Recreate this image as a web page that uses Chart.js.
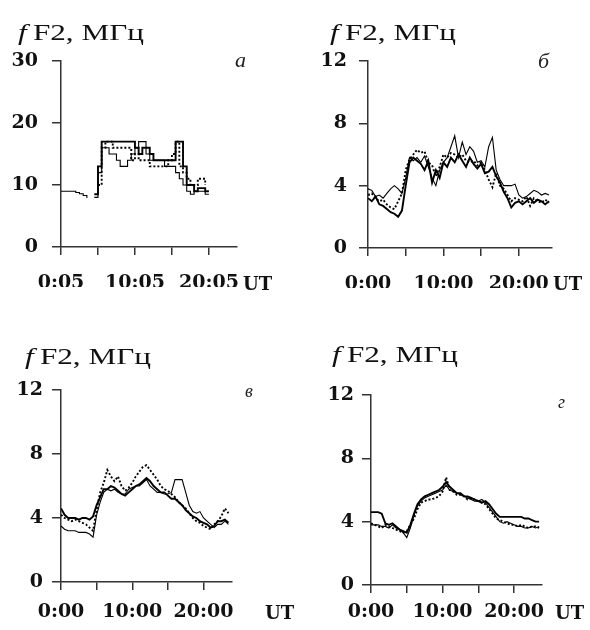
<!DOCTYPE html>
<html>
<head>
<meta charset="utf-8">
<script src="https://cdn.jsdelivr.net/npm/chart.js@4.4.1/dist/chart.umd.min.js"></script>
<style>
  body { margin: 0; background: #fff; }
  #page { position: relative; width: 590px; height: 630px; overflow: hidden; }
  canvas { position: absolute; }
  .ttl { position: absolute; font-family: "Liberation Serif", serif; font-size: 24px; line-height: 1; white-space: nowrap;
         transform: scaleX(1.3); transform-origin: left top; color: #111; }
  .ltr { position: absolute; font-family: "Liberation Serif", serif; font-style: italic; line-height: 1; color: #222; }
  .ut { position: absolute; font-family: "DejaVu Serif", serif; font-weight: bold; font-size: 18px; line-height: 1; color: #111; }
</style>
</head>
<body>
<div id="page">
  <canvas id="ca" width="295" height="315" style="left:0;top:0"></canvas>
  <canvas id="cb" width="295" height="315" style="left:295px;top:0"></canvas>
  <canvas id="cc" width="295" height="315" style="left:0;top:315px"></canvas>
  <canvas id="cd" width="295" height="315" style="left:295px;top:315px"></canvas>

  <div class="ttl" style="left:18px;top:20px"><i>f</i>&#8201;F2, МГц</div>
  <div class="ttl" style="left:330px;top:20px"><i>f</i>&#8201;F2, МГц</div>
  <div class="ttl" style="left:25px;top:344px"><i>f</i>&#8201;F2, МГц</div>
  <div class="ttl" style="left:332px;top:342px"><i>f</i>&#8201;F2, МГц</div>

  <div class="ltr" style="left:235px;top:49px;font-size:22px">а</div>
  <div class="ltr" style="left:538px;top:50px;font-size:22px">б</div>
  <div class="ltr" style="left:245px;top:382px;font-size:18px">в</div>
  <div class="ltr" style="left:558px;top:393px;font-size:18px">г</div>

  <div class="ut" style="left:243px;top:275px">UT</div>
  <div class="ut" style="left:553px;top:275px">UT</div>
  <div class="ut" style="left:265px;top:604px">UT</div>
  <div class="ut" style="left:555px;top:604px">UT</div>
</div>
<script>
// time of day, hours (half-hour steps)
const hours = [0, 0.5, 1, 1.5, 2, 2.5, 3, 3.5, 4, 4.5, 5, 5.5, 6, 6.5, 7, 7.5, 8, 8.5, 9, 9.5,
  10, 10.5, 11, 11.5, 12, 12.5, 13, 13.5, 14, 14.5, 15, 15.5, 16, 16.5, 17, 17.5, 18, 18.5, 19, 19.5,
  20, 20.5, 21, 21.5, 22, 22.5, 23, 23.5, 24];

const xLabelsA = ["0:05", "", "10:05", "", "20:05"];
const xLabels = ["0:00", "", "10:00", "", "20:00"];

// panel a (fF2, MHz)
const a1 = [9, 9, 9, 9, 8.8, 8.6, 8.3, 7.9, null, 8, 12, 16, 16, 15, 15, 14, 13, 13, 14, 15,
  16, 17, 17, 15, 14, 14, 14, 14, 13, 13, 13, 12, 11, 10, 9, 8.5, 9, 9, 9, 8.5, 8.5];
const a2 = [null, null, null, null, null, null, null, null, null, 8.5, 13, 17, 17, 17, 17, 17, 17, 17, 17, 17,
  16, 15, 16, 16, 15, 14, 14, 14, 14, 14, 14, 17, 17, 13, 10, 10, 9, 9.5, 9.5, 9, 9];
const a3 = [null, null, null, null, null, null, null, null, null, null, 10, 16, 17, 17, 16, 16, 16, 16, 16, 14,
  15, 14, 14, 14, 13, 13, 13, 13, 13, 14, 15, 17, 13, 12, 11, 10, 10, 11, 11, 10];

// panel b
const b1 = [3.8, 3.7, 3.3, 3.4, 3.2, 3.5, 3.8, 4.0, 3.8, 3.5, 4.5, 5.8, 5.6, 5.8, 5.5, 5.9, 5.2, 4.5, 4.0, 5.0,
  5.5, 5.8, 6.5, 7.2, 5.8, 6.8, 6.0, 6.5, 6.2, 5.5, 5.6, 5.2, 6.5, 7.1, 5.0, 4.4, 4.0, 4.0, 4.0, 4.1,
  3.4, 3.2, 3.3, 3.5, 3.7, 3.6, 3.4, 3.5, 3.4];
const b2 = [3.2, 3.0, 3.3, 2.8, 2.7, 2.5, 2.3, 2.2, 2.0, 2.4, 4.0, 5.5, 5.8, 5.6, 5.4, 5.0, 5.6, 4.2, 5.0, 4.5,
  5.5, 5.2, 5.8, 5.5, 6.0, 5.6, 5.2, 5.8, 5.4, 5.1, 5.4, 4.8, 4.9, 5.2, 4.6, 4.2, 3.6, 3.2, 2.6, 2.9,
  3.0, 2.8, 3.0, 3.2, 2.9, 3.1, 3.0, 2.8, 3.0];
const b3 = [3.4, 3.5, 3.2, 3.0, 3.1, 2.8, 2.6, 2.5, 3.0, 3.5, 5.0, 5.7, 6.0, 6.3, 6.1, 6.2, 5.5, 5.3, 4.6, 5.2,
  6.0, 5.8, 6.1, 6.0, 5.8, 6.0, 5.6, 5.5, 5.6, 5.3, 5.5, 5.0, 4.4, 3.9, 4.8, 4.0, 3.8, 3.4, 3.0, 3.2,
  3.1, 3.0, 3.3, 2.7, 3.2, 3.0, 2.9, 3.1, 2.9];

// panel c
const c1 = [4.6, 4.2, 4.0, 4.0, 4.0, 3.9, 4.0, 4.0, 3.9, 4.1, 4.8, 5.3, 5.8, 5.8, 6.0, 5.9, 5.7, 5.5, 5.4, 5.6,
  5.8, 6.0, 6.1, 6.3, 6.5, 6.3, 6.0, 5.8, 5.6, 5.6, 5.4, 5.2, 5.2, 5.0, 4.8, 4.5, 4.3, 4.1, 4.0, 3.8,
  3.7, 3.6, 3.4, 3.5, 3.8, 3.8, 3.9, 3.7];
const c2 = [3.5, 3.3, 3.2, 3.2, 3.2, 3.1, 3.1, 3.1, 3.0, 2.8, 4.2, 5.0, 5.6, 5.8, 5.7, 5.8, 5.6, 5.5, 5.5, 5.8,
  5.9, 6.0, 6.0, 6.2, 6.4, 6.0, 5.8, 5.6, 5.6, 5.5, 5.5, 5.6, 6.4, 6.4, 6.4, 5.6, 4.8, 4.4, 4.3, 4.4,
  4.0, 3.8, 3.6, 3.4, 3.6, 3.6, 3.8, 3.6];
const c3 = [4.2, 4.0, 3.9, 3.8, 3.9, 3.8, 3.7, 3.6, 3.4, 3.2, 4.5, 5.6, 6.2, 7.0, 6.6, 6.3, 6.6, 6.0, 5.7, 5.9,
  6.2, 6.6, 6.9, 7.2, 7.3, 7.0, 6.7, 6.4, 6.0, 5.8, 5.7, 5.5, 5.3, 5.0, 4.8, 4.6, 4.3, 4.0, 3.8, 3.7,
  3.5, 3.4, 3.3, 3.6, 3.8, 4.1, 4.6, 4.3];

// panel d
const d1 = [4.6, 4.6, 4.6, 4.5, 3.9, 3.8, 3.9, 3.7, 3.5, 3.4, 3.3, 3.8, 4.5, 5.1, 5.4, 5.6, 5.7, 5.8, 5.9, 6.0,
  6.2, 6.5, 6.2, 6.0, 5.8, 5.8, 5.6, 5.6, 5.5, 5.4, 5.3, 5.2, 5.3, 5.1, 4.8, 4.5, 4.3, 4.3, 4.3, 4.3,
  4.3, 4.3, 4.3, 4.2, 4.2, 4.1, 4.0, 4.0];
const d2 = [3.8, 3.8, 3.8, 3.7, 3.7, 3.6, 3.8, 3.6, 3.5, 3.3, 3.0, 3.6, 4.4, 5.0, 5.3, 5.5, 5.6, 5.7, 5.8, 5.9,
  6.0, 6.3, 6.0, 5.9, 5.8, 5.7, 5.6, 5.5, 5.4, 5.3, 5.3, 5.4, 5.2, 4.9, 4.6, 4.3, 4.0, 3.9, 4.0, 3.9,
  3.8, 3.7, 3.7, 3.6, 3.6, 3.7, 3.6, 3.7];
const d3 = [3.9, 3.8, 3.7, 3.6, 3.8, 3.7, 3.6, 3.5, 3.4, 3.3, 3.4, 3.8, 4.2, 4.8, 5.2, 5.3, 5.4, 5.4, 5.5, 5.6,
  5.9, 6.8, 6.0, 5.9, 5.7, 5.7, 5.6, 5.4, 5.5, 5.4, 5.3, 5.2, 5.1, 4.8, 4.5, 4.2, 4.1, 4.0, 3.9, 3.8,
  3.8, 3.7, 3.8, 3.7, 3.6, 3.7, 3.7, 3.6];

const ink = "#000";
const axisColor = "#333";
const tickFont = { family: "DejaVu Serif", weight: "bold", size: 19 };

function line(vals, kind, stepped) {
  return {
    data: vals.map((v, i) => ({ x: hours[i], y: v })),
    borderColor: ink,
    borderWidth: kind === "thin" ? 1.1 : 1.9,
    borderDash: kind === "dash" ? [2, 2] : [],
    pointRadius: 0,
    spanGaps: false,
    stepped: stepped ? "before" : false,
    tension: 0,
  };
}

function panel(id, sets, opt) {
  new Chart(document.getElementById(id), {
    type: "line",
    data: { datasets: sets },
    options: {
      responsive: false,
      animation: false,
      devicePixelRatio: 1,
      layout: { padding: opt.pad },
      plugins: { legend: { display: false }, tooltip: { enabled: false } },
      scales: {
        x: {
          type: "linear",
          min: 0,
          max: opt.xMax,
          afterFit: s => { s.height = 40; },
          border: { display: true, color: axisColor, width: 1.5 },
          grid: { drawOnChartArea: false, drawTicks: true, tickLength: 8, color: axisColor, lineWidth: 1.5 },
          ticks: {
            stepSize: 5,
            includeBounds: false,
            autoSkip: false,
            maxRotation: 0,
            padding: opt.xPad,
            color: "#111",
            font: tickFont,
            callback: (v, i) => opt.labels[i],
          },
        },
        y: {
          min: 0,
          max: opt.yMax,
          afterFit: s => { s.width = 50; },
          border: { display: true, color: axisColor, width: 1.5 },
          grid: { drawOnChartArea: false, drawTicks: true, tickLength: 9, color: axisColor, lineWidth: 1.5 },
          ticks: { stepSize: opt.yStep, padding: opt.yPad, color: "#111", font: tickFont },
        },
      },
    },
  });
}

panel("ca", [line(a1, "thin", true), line(a2, "thick", true), line(a3, "dash", true)], {
  pad: { left: 11, top: 61, right: 58, bottom: 28 },
  xMax: 23.8, yMax: 30, yStep: 10, xPad: 17, yPad: 14, labels: xLabelsA,
});
panel("cb", [line(b1, "thin"), line(b2, "thick"), line(b3, "dash")], {
  pad: { left: 23, top: 61, right: 38, bottom: 27 },
  xMax: 24.4, yMax: 12, yStep: 4, xPad: 17, yPad: 12, labels: xLabels,
});
panel("cc", [line(c1, "thick"), line(c2, "thin"), line(c3, "dash")], {
  pad: { left: 11, top: 75, right: 63, bottom: 8 },
  xMax: 24, yMax: 12, yStep: 4, xPad: 11, yPad: 9, labels: xLabels,
});
panel("cd", [line(d1, "thick"), line(d2, "thin"), line(d3, "dash")], {
  pad: { left: 26, top: 80, right: 48, bottom: 5 },
  xMax: 23.9, yMax: 12, yStep: 4, xPad: 8, yPad: 8, labels: xLabels,
});
</script>
</body>
</html>
